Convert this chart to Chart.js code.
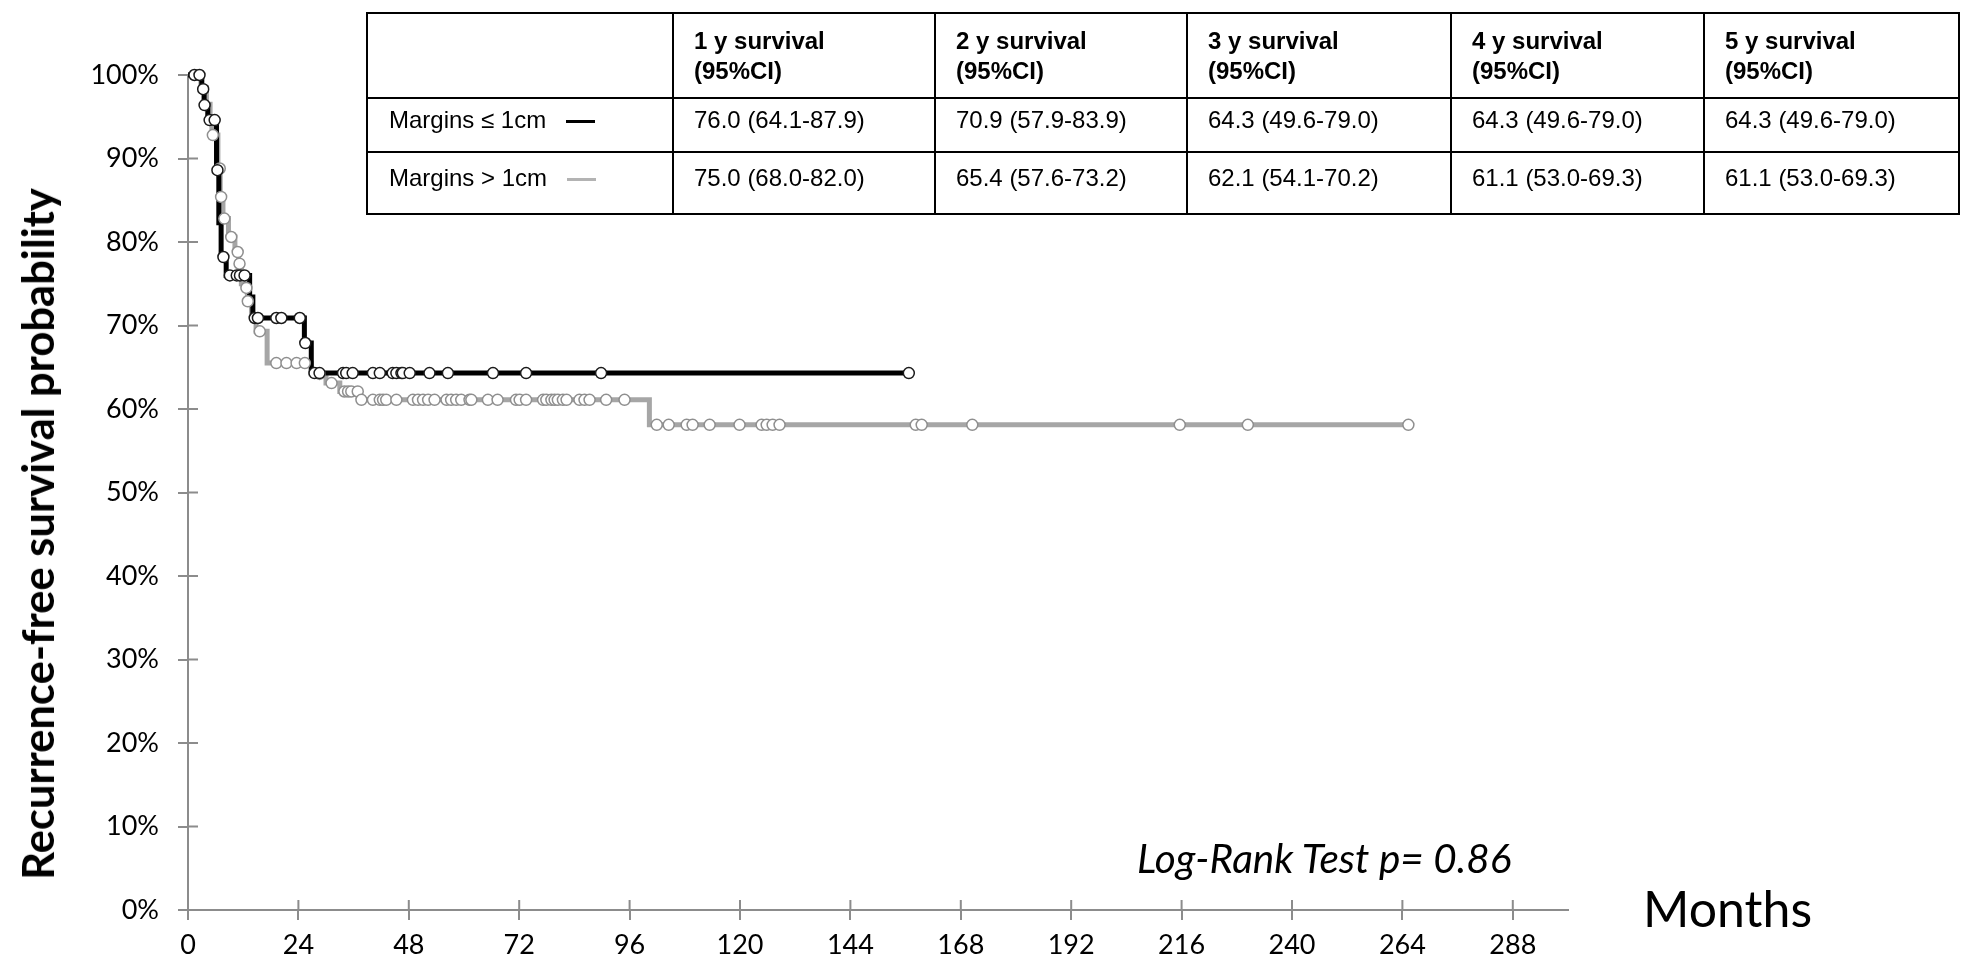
<!DOCTYPE html>
<html>
<head>
<meta charset="utf-8">
<script src="https://cdn.jsdelivr.net/npm/chart.js@4/dist/chart.umd.min.js"></script>
<style>
  body { margin: 0; background: #fff; }
  #wrap { position: relative; width: 1969px; height: 970px; }
  #ytitle {
    position: absolute; left: 37px; top: 534px;
    transform: translate(-50%, -50%) rotate(-90deg);
    font: bold 43.5px Lato, sans-serif; white-space: nowrap; color: #000;
  }
  #months { position: absolute; left: 1643px; top: 878px; font: 50px Lato, sans-serif; color: #000; }
  #logrank { position: absolute; left: 1137px; top: 833px; font: italic 40.5px Lato, sans-serif; color: #000; }
  table#surv {
    position: absolute; left: 366px; top: 12px;
    border-collapse: collapse; table-layout: fixed;
    font: 24px "Liberation Sans", Arial, sans-serif; color: #000;
  }
  #surv td { border: 2px solid #000; padding: 0 0 0 20px; vertical-align: top; line-height: 30px; white-space: nowrap; }
  #surv tr.head td { height: 85px; font-weight: bold; padding-top: 12px; box-sizing: border-box; }
  #surv tr.r1 td { height: 54px; padding-top: 6px; box-sizing: border-box; }
  #surv tr.r2 td { height: 62px; padding-top: 10px; box-sizing: border-box; }
  .dash { display: inline-block; width: 29px; height: 3px; vertical-align: middle; margin-left: 20px; }
</style>
</head>
<body>
<div id="wrap">
  <canvas id="kmChart"></canvas>
  <div id="ytitle">Recurrence-free survival probability</div>
  <div id="logrank">Log-Rank Test p= 0.86</div>
  <div id="months">Months</div>
  <table id="surv"></table>
</div>
<script>
// Margins <= 1cm (black): step times / survival (%) after each step
var blackTimes = [0, 3.0, 3.5, 4.3, 6.2, 6.7, 7.2, 8.3, 13.4, 14.1, 25.3, 26.8, 156.7];
var blackSurv = [100, 98.3, 96.4, 94.6, 88.6, 82.3, 78.2, 76.0, 73.4, 70.9, 67.9, 64.3, 64.3];
var blackCensored = [1.4, 2.5, 3.3, 3.6, 4.7, 5.8, 6.4, 7.7, 9.1, 10.6, 11.3, 12.3, 14.5, 15.2, 19.2,
  20.3, 24.3, 25.5, 27.5, 28.6, 33.7, 34.4, 35.8, 40.2, 41.7, 44.5, 45.3, 46.4, 46.7, 48.2, 52.5,
  56.5, 66.3, 73.5, 89.8, 156.7];

// Margins > 1cm (gray)
var grayTimes = [0, 2.8, 4.0, 4.8, 5.2, 6.5, 7.0, 7.6, 8.8, 10.2, 11.0, 11.6, 12.5, 12.9, 13.8, 14.8,
  17.2, 26.8, 30.0, 33.0, 37.3, 100.3, 265.3];
var graySurv = [100, 98.5, 96.5, 94.5, 92.8, 88.8, 85.4, 82.8, 80.6, 78.8, 77.4, 75.0, 74.5, 72.9, 71.0,
  69.3, 65.5, 64.2, 63.1, 62.1, 61.1, 58.1, 58.1];
var grayCensored = [5.4, 6.9, 7.2, 7.9, 9.4, 10.8, 11.2, 12.7, 13.0, 15.6, 19.2, 21.4, 23.6, 25.4, 28.6,
  31.2, 34.0, 34.8, 35.5, 36.9, 37.7, 40.2, 41.7, 42.4, 43.1, 45.3, 48.9, 50.0, 51.1, 52.2, 53.6, 56.2,
  57.2, 58.3, 59.4, 61.2, 61.6, 65.2, 67.3, 71.3, 72.1, 73.5, 77.2, 77.9, 79.0, 79.7, 80.4, 81.5, 82.3,
  85.1, 86.2, 87.3, 90.9, 94.9, 101.9, 104.5, 108.4, 109.7, 113.4, 119.9, 124.7, 125.8, 127.1, 128.6,
  158.2, 159.5, 170.5, 215.6, 230.4, 265.3];

var xTicks = [0, 24, 48, 72, 96, 120, 144, 168, 192, 216, 240, 264, 288];

// survival table
var tableHeaders = ["1 y survival", "2 y survival", "3 y survival", "4 y survival", "5 y survival"];
var groupLabels = ["Margins \u2264 1cm", "Margins > 1cm"];
var blackRates = ["76.0 (64.1-87.9)", "70.9 (57.9-83.9)", "64.3 (49.6-79.0)", "64.3 (49.6-79.0)", "64.3 (49.6-79.0)"];
var grayRates = ["75.0 (68.0-82.0)", "65.4 (57.6-73.2)", "62.1 (54.1-70.2)", "61.1 (53.0-69.3)", "61.1 (53.0-69.3)"];

var colWidths = [306, 262, 252, 264, 253, 255];
var blackColor = "#000000";
var grayColor = "#a6a6a6";

// build table
var tbl = document.getElementById("surv");
var cg = "<colgroup>" + colWidths.map(function (w) { return '<col style="width:' + w + 'px">'; }).join("") + "</colgroup>";
var head = '<tr class="head"><td></td>' + tableHeaders.map(function (h) { return "<td>" + h + "<br>(95%CI)</td>"; }).join("") + "</tr>";
var r1 = '<tr class="r1"><td style="padding-left:21px">' + groupLabels[0] + '<span class="dash" style="background:' + blackColor + '"></span></td>' +
  blackRates.map(function (v) { return "<td>" + v + "</td>"; }).join("") + "</tr>";
var r2 = '<tr class="r2"><td style="padding-left:21px">' + groupLabels[1] + '<span class="dash" style="background:#b3b3b3"></span></td>' +
  grayRates.map(function (v) { return "<td>" + v + "</td>"; }).join("") + "</tr>";
tbl.innerHTML = cg + head + r1 + r2;

function survAt(times, surv, t) {
  var s = surv[0];
  for (var i = 0; i < times.length; i++) {
    if (times[i] <= t) s = surv[i];
  }
  return s;
}

function steps(times, surv) {
  return times.map(function (t, i) { return { x: t, y: surv[i] }; });
}
function censors(list, times, surv) {
  return list.map(function (t) { return { x: t, y: survAt(times, surv, t) }; });
}

// small ticks crossing into the plot area
var innerTicks = {
  id: "innerTicks",
  beforeDatasetsDraw: function (chart) {
    var ctx = chart.ctx, a = chart.chartArea;
    var xs = chart.scales.x, ys = chart.scales.y;
    ctx.save();
    ctx.strokeStyle = "#8c8c8c";
    ctx.lineWidth = 2;
    ctx.beginPath();
    xs.ticks.forEach(function (tk) {
      var px = xs.getPixelForValue(tk.value);
      ctx.moveTo(px, a.bottom);
      ctx.lineTo(px, a.bottom - 10);
    });
    ys.ticks.forEach(function (tk) {
      var py = ys.getPixelForValue(tk.value);
      ctx.moveTo(a.left, py);
      ctx.lineTo(a.left + 10, py);
    });
    ctx.stroke();
    ctx.restore();
  }
};

var ctx = document.getElementById("kmChart");
var kmChart = new Chart(ctx, {
  type: "line",
  data: {
    datasets: [
      {
        label: "Margins <= 1cm censored",
        data: censors(blackCensored, blackTimes, blackSurv),
        showLine: false,
        pointRadius: 5.5,
        pointBackgroundColor: "#ffffff",
        pointBorderColor: "#1a1a1a",
        pointBorderWidth: 1.5,
        clip: false,
        order: 0
      },
      {
        label: "Margins > 1cm censored",
        data: censors(grayCensored, grayTimes, graySurv),
        showLine: false,
        pointRadius: 5.5,
        pointBackgroundColor: "#ffffff",
        pointBorderColor: "#8f8f8f",
        pointBorderWidth: 1.5,
        clip: false,
        order: 1
      },
      {
        label: "Margins <= 1cm",
        data: steps(blackTimes, blackSurv),
        stepped: "before",
        borderColor: blackColor,
        borderWidth: 5,
        pointRadius: 0,
        fill: false,
        clip: false,
        order: 2
      },
      {
        label: "Margins > 1cm",
        data: steps(grayTimes, graySurv),
        stepped: "before",
        borderColor: grayColor,
        borderWidth: 5,
        pointRadius: 0,
        fill: false,
        clip: false,
        order: 3
      }
    ]
  },
  options: {
    responsive: true,
    maintainAspectRatio: false,
    animation: false,
    layout: { padding: { top: 75, right: 401, left: 0, bottom: 0 } },
    plugins: { legend: { display: false }, tooltip: { enabled: false } },
    scales: {
      x: {
        type: "linear",
        min: 0,
        max: 300,
        afterBuildTicks: function (scale) {
          scale.ticks = xTicks.map(function (v) { return { value: v }; });
        },
        afterFit: function (scale) { scale.height = 60; },
        grid: { drawOnChartArea: false, drawTicks: true, tickLength: 10, color: "#8c8c8c", lineWidth: 2 },
        border: { display: true, color: "#8c8c8c", width: 2 },
        ticks: { color: "#000", font: { family: "Lato", size: 27 }, padding: 9, maxRotation: 0, autoSkip: false }
      },
      y: {
        min: 0,
        max: 100,
        afterFit: function (scale) { scale.width = 188; },
        grid: { drawOnChartArea: false, drawTicks: true, tickLength: 10, color: "#8c8c8c", lineWidth: 2 },
        border: { display: true, color: "#8c8c8c", width: 2 },
        ticks: {
          stepSize: 10,
          color: "#000",
          font: { family: "Lato", size: 27 },
          padding: 19,
          callback: function (v) { return v + "%"; }
        }
      }
    }
  },
  plugins: [innerTicks]
});
</script>
</body>
</html>
